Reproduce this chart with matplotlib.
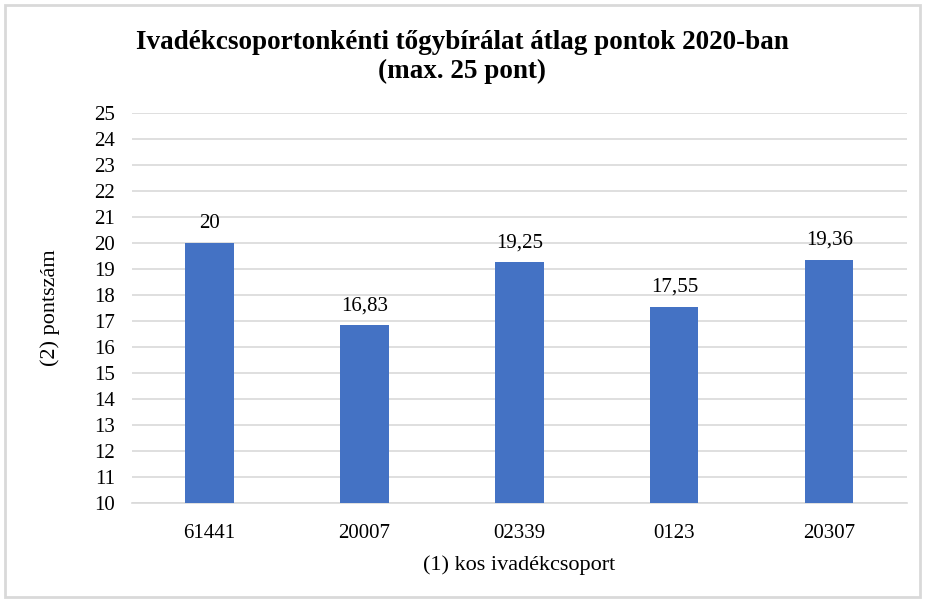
import matplotlib.pyplot as plt
import matplotlib.patches as mpatches

groups = ["61441", "20007", "02339", "0123", "20307"]
points = [20, 16.83, 19.25, 17.55, 19.36]
labels = ["20", "16,83", "19,25", "17,55", "19,36"]
yticks = list(range(10, 26))

plt.rcParams['font.family'] = ['Liberation Serif', 'DejaVu Serif']

fig = plt.figure(figsize=(9.25, 5.99), dpi=100)
ax = fig.add_axes([0.1427, 0.1603, 0.9805 - 0.1427, 0.8114 - 0.1603])

x = range(len(groups))
bars = ax.bar(x, points, width=0.31, color='#4472C4', zorder=3)
for b, t in zip(bars, labels):
    ax.annotate(t, (b.get_x() + b.get_width() / 2, b.get_height()),
                xytext=(0, 7), textcoords='offset points',
                ha='center', va='bottom', fontsize=15)

ax.set_xlim(-0.5, len(groups) - 0.5)
ax.set_ylim(10, 25)
ax.set_yticks(yticks)
ax.set_xticks(list(x))
ax.set_xticklabels(groups)
ax.tick_params(axis='both', length=0, labelsize=15)
ax.tick_params(axis='x', pad=15)
ax.tick_params(axis='y', pad=12)
ax.grid(axis='y', color='#D9D9D9', linewidth=1.2, zorder=0)
for s in ['top', 'right', 'left']:
    ax.spines[s].set_visible(False)
ax.spines['bottom'].set_color('#D9D9D9')
ax.spines['bottom'].set_linewidth(1.2)

ax.set_xlabel("(1) kos ivadékcsoport", fontsize=16, labelpad=9)
ax.set_ylabel("(2) pontszám", fontsize=16, labelpad=25)

fig.text(0.5, 0.905, "Ivadékcsoportonkénti tőgybírálat átlag pontok 2020-ban\n(max. 25 pont)",
         ha='center', va='center', fontsize=19.5, fontweight='bold', linespacing=1.2)

fig.patches.append(mpatches.Rectangle((5 / 925, 2 / 599), 915 / 925, 592 / 599,
                                      transform=fig.transFigure, fill=False,
                                      edgecolor='#D9D9D9', linewidth=2))

fig.savefig("out.png", dpi=100)
